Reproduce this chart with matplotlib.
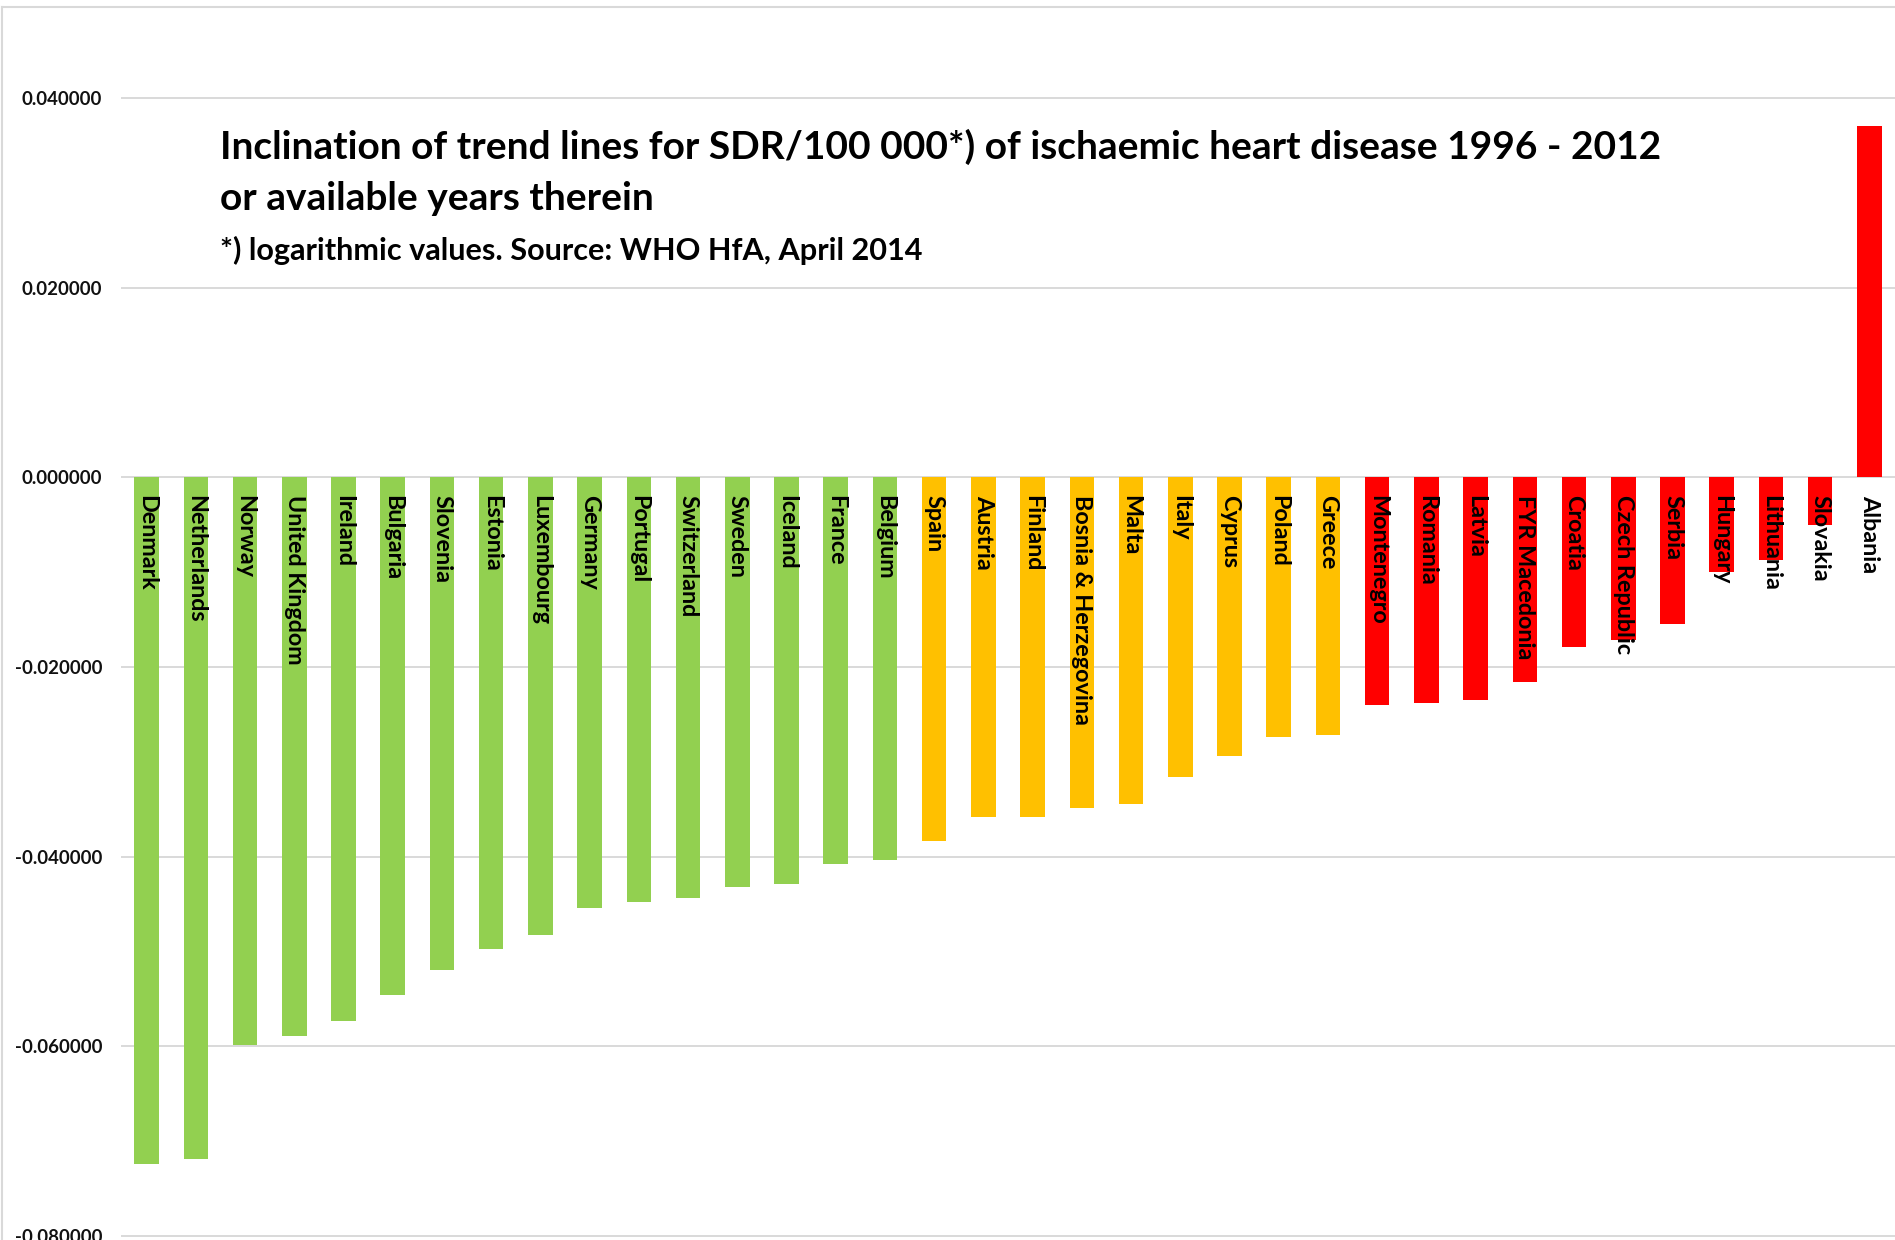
import matplotlib
matplotlib.use("Agg")
import matplotlib.pyplot as plt
import matplotlib.transforms as mtransforms
from matplotlib.lines import Line2D

# ---------------- data ----------------
countries = ["Denmark", "Netherlands", "Norway", "United Kingdom", "Ireland",
             "Bulgaria", "Slovenia", "Estonia", "Luxembourg", "Germany",
             "Portugal", "Switzerland", "Sweden", "Iceland", "France", "Belgium",
             "Spain", "Austria", "Finland", "Bosnia & Herzegovina", "Malta",
             "Italy", "Cyprus", "Poland", "Greece",
             "Montenegro", "Romania", "Latvia", "FYR Macedonia", "Croatia",
             "Czech Republic", "Serbia", "Hungary", "Lithuania", "Slovakia",
             "Albania"]
values = [-0.0724, -0.0719, -0.0599, -0.0589, -0.0573,
          -0.0546, -0.0519, -0.0497, -0.0483, -0.0454,
          -0.0448, -0.0444, -0.0432, -0.0429, -0.0408, -0.0403,
          -0.0383, -0.0358, -0.0358, -0.0349, -0.0344,
          -0.0316, -0.0294, -0.0274, -0.0272,
          -0.0240, -0.0238, -0.0235, -0.0216, -0.0179,
          -0.0172, -0.0155, -0.0100, -0.0087, -0.0050,
          0.0370]
tiers = (["green"] * 16) + (["yellow"] * 9) + (["red"] * 11)
yticks = [0.04, 0.02, 0.0, -0.02, -0.04, -0.06, -0.08]
title_line1 = "Inclination of trend lines for SDR/100 000*) of ischaemic heart disease 1996 - 2012"
title_line2 = "or available years therein"
subtitle = "*) logarithmic values. Source: WHO HfA, April 2014"

palette = {"green": "#92D050", "yellow": "#FFC000", "red": "#FF0000"}

# ---------------- figure ----------------
plt.rcParams["font.family"] = ["Lato", "DejaVu Sans"]
W, H = 1895, 1240
fig = plt.figure(figsize=(W / 100, H / 100), dpi=100)
renderer = fig.canvas.get_renderer()


def fit(t, target, dim="w"):
    for _ in range(3):
        bb = t.get_window_extent(renderer)
        cur = bb.width if dim == "w" else bb.height
        t.set_fontsize(t.get_fontsize() * target / cur)


ax = fig.add_axes([122 / W, 1 - 1236 / H, (1894 - 122) / W, (1236 - 98) / H])
ax.set_xlim(-0.5, len(countries) - 0.5)
ax.set_ylim(-0.08, 0.04)
for s in ax.spines.values():
    s.set_visible(False)

ax.set_yticks(yticks)
ax.set_yticklabels([f"{v:.6f}" for v in yticks], fontweight="bold", color="#111111")
ax.tick_params(axis="y", length=0, pad=14.4, labelsize=13.5)
ax.set_xticks([])
ax.yaxis.grid(True, color="#d9d9d9", linewidth=1.4)
ax.set_axisbelow(True)
for gl in ax.get_ygridlines():
    gl.set_clip_on(False)

x = list(range(len(countries)))
ax.bar(x, values, width=0.5, color=[palette[t] for t in tiers], zorder=3)

# category labels below the zero line
off = mtransforms.offset_copy(ax.transData, fig=fig, x=0, y=-18, units="dots")
labels = []
for i, name in enumerate(countries):
    t = ax.text(i, 0, name, rotation=270, ha="center", va="top",
                fontweight="bold", fontsize=14, color="#000000",
                transform=off, zorder=4)
    labels.append(t)
fit(labels[3], 170, dim="h")
for t in labels:
    t.set_fontsize(labels[3].get_fontsize())

# fit tick label size
fig.canvas.draw()
tl = ax.get_yticklabels()[0]
bb = tl.get_window_extent(renderer)
ax.tick_params(axis="y", labelsize=13.5 * 80 / bb.width)

# title texts
t1 = fig.text(220 / W, 1 - 159 / H, title_line1, fontweight="bold",
              ha="left", va="baseline", fontsize=26, color="#000000")
fit(t1, 1443)
t2 = fig.text(220 / W, 1 - 210 / H, title_line2, fontweight="bold",
              ha="left", va="baseline", fontsize=t1.get_fontsize(), color="#000000")
t3 = fig.text(220 / W, 1 - 260 / H, subtitle, fontweight="bold",
              ha="left", va="baseline", fontsize=18, color="#000000")
fit(t3, 701)

# chart-area border (top and left)
fig.add_artist(Line2D([2 / W, 2 / W], [0, 1 - 7 / H], color="#d9d9d9", lw=1.5,
                      transform=fig.transFigure))
fig.add_artist(Line2D([2 / W, 1], [1 - 7 / H, 1 - 7 / H], color="#d9d9d9", lw=1.5,
                      transform=fig.transFigure))

fig.savefig("out.png", dpi=100, facecolor="white")
